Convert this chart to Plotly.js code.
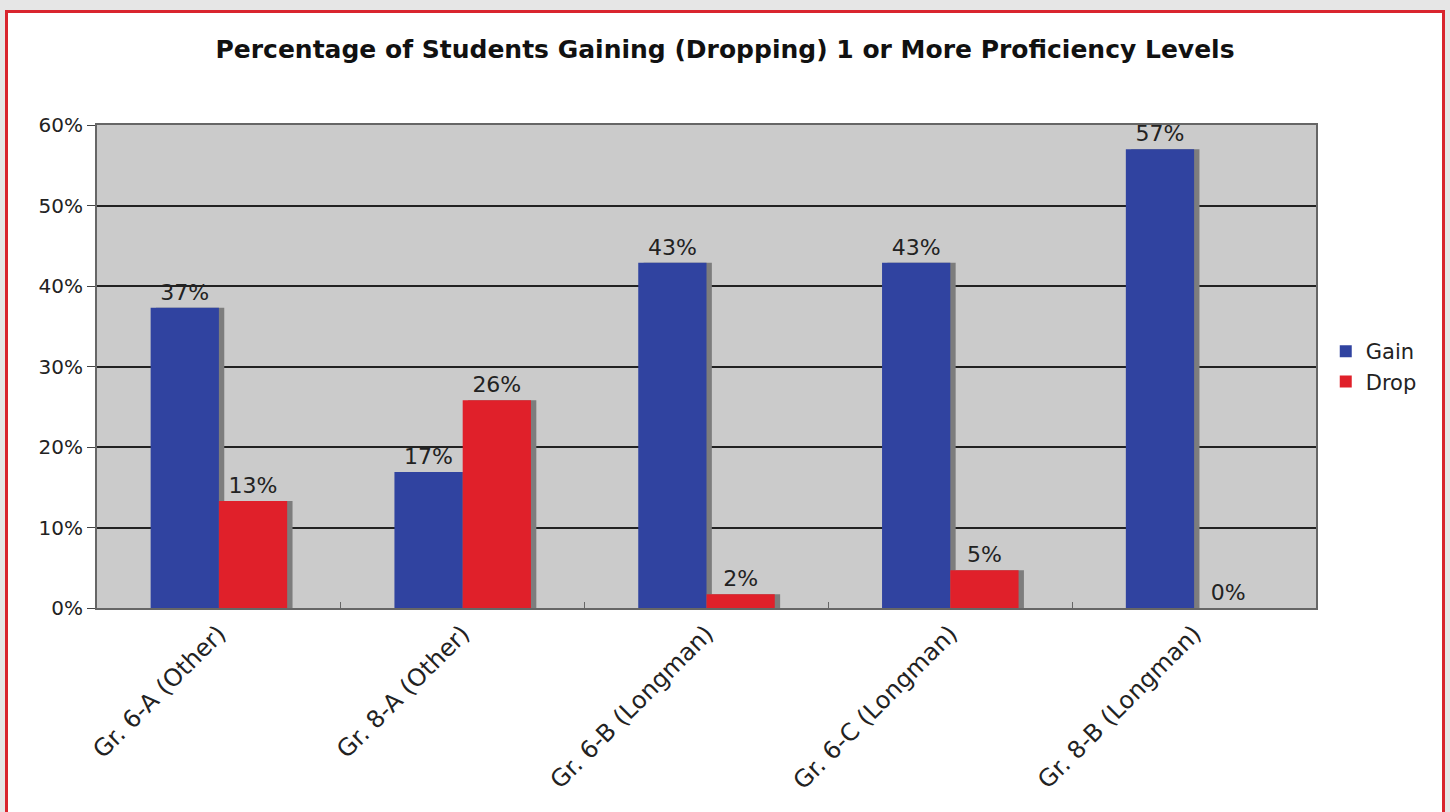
<!DOCTYPE html>
<html>
<head>
<meta charset="utf-8">
<script src="https://cdn.plot.ly/plotly-3.0.1.min.js"></script>
<style>
  html, body { margin: 0; padding: 0; width: 1450px; height: 812px; overflow: hidden; background: #e6e6e6; }
  #frame { position: absolute; left: 5px; top: 10px; width: 1434px; height: 799px; border: 3px solid #d9252e; background: #ffffff; }
  #chart { position: absolute; left: 0; top: 0; width: 1434px; height: 799px; }
</style>
</head>
<body>
<div id="frame"><div id="chart"></div></div>
<script>
const categories = ["Gr. 6-A (Other)", "Gr. 8-A (Other)", "Gr. 6-B (Longman)", "Gr. 6-C (Longman)", "Gr. 8-B (Longman)"];
const gainValues = [37.3, 16.9, 42.9, 42.9, 57.0];
const dropValues = [13.3, 25.8, 1.7, 4.7, 0];
const gainLabels = ["37%", "17%", "43%", "43%", "57%"];
const dropLabels = ["13%", "26%", "2%", "5%", "0%"];
const yTickVals = [0, 10, 20, 30, 40, 50, 60];
const yTickText = ["0%", "10%", "20%", "30%", "40%", "50%", "60%"];

const W = 0.28;
const SH = 0.022;
const font = "DejaVu Sans, Verdana, sans-serif";

const traces = [
  { type: "bar", x: categories, y: gainValues, offset: -W + SH, width: W, marker: { color: "#7d7d7d" }, showlegend: false, hoverinfo: "skip" },
  { type: "bar", x: categories, y: dropValues, offset: SH, width: W, marker: { color: "#7d7d7d" }, showlegend: false, hoverinfo: "skip" },
  { type: "bar", name: "Gain", x: categories, y: gainValues, offset: -W, width: W,
    marker: { color: "#3043a0" }, text: gainLabels, textposition: "outside", cliponaxis: false,
    textfont: { family: font, size: 22, color: "#222" } },
  { type: "bar", name: "Drop", x: categories, y: dropValues, offset: 0, width: W,
    marker: { color: "#e0202a" }, text: dropLabels, textposition: "outside", cliponaxis: false,
    textfont: { family: font, size: 22, color: "#222" } }
];

const layout = {
  width: 1434, height: 799,
  margin: { l: 89, r: 126, t: 112, b: 204 },
  paper_bgcolor: "#ffffff",
  plot_bgcolor: "#cbcbcb",
  barmode: "overlay",
  title: { text: "<b>Percentage of Students Gaining (Dropping) 1 or More Proficiency Levels</b>",
           font: { family: font, size: 25, color: "#111" }, x: 0.5, xanchor: "center", y: 0.955, yanchor: "middle" },
  xaxis: { type: "category", tickangle: -45, tickfont: { family: font, size: 24, color: "#222" },
           showline: true, linecolor: "#666", linewidth: 2, mirror: true,
           ticks: "inside", tickson: "boundaries", ticklen: 6, tickcolor: "#666", showgrid: false },
  yaxis: { range: [0, 60], tickvals: yTickVals, ticktext: yTickText,
           tickfont: { family: font, size: 20, color: "#222" },
           showgrid: true, gridcolor: "#222", gridwidth: 2, zeroline: false,
           showline: true, linecolor: "#666", linewidth: 2, mirror: true,
           ticks: "outside", ticklen: 8, tickcolor: "#444" },
  legend: { x: 1.008, y: 0.5, xanchor: "left", yanchor: "middle", font: { family: font, size: 21, color: "#222" },
            bgcolor: "rgba(0,0,0,0)", itemwidth: 30, tracegroupgap: 0 },
  showlegend: true
};

Plotly.newPlot("chart", traces, layout, { displayModeBar: false, staticPlot: true });
</script>
</body>
</html>
